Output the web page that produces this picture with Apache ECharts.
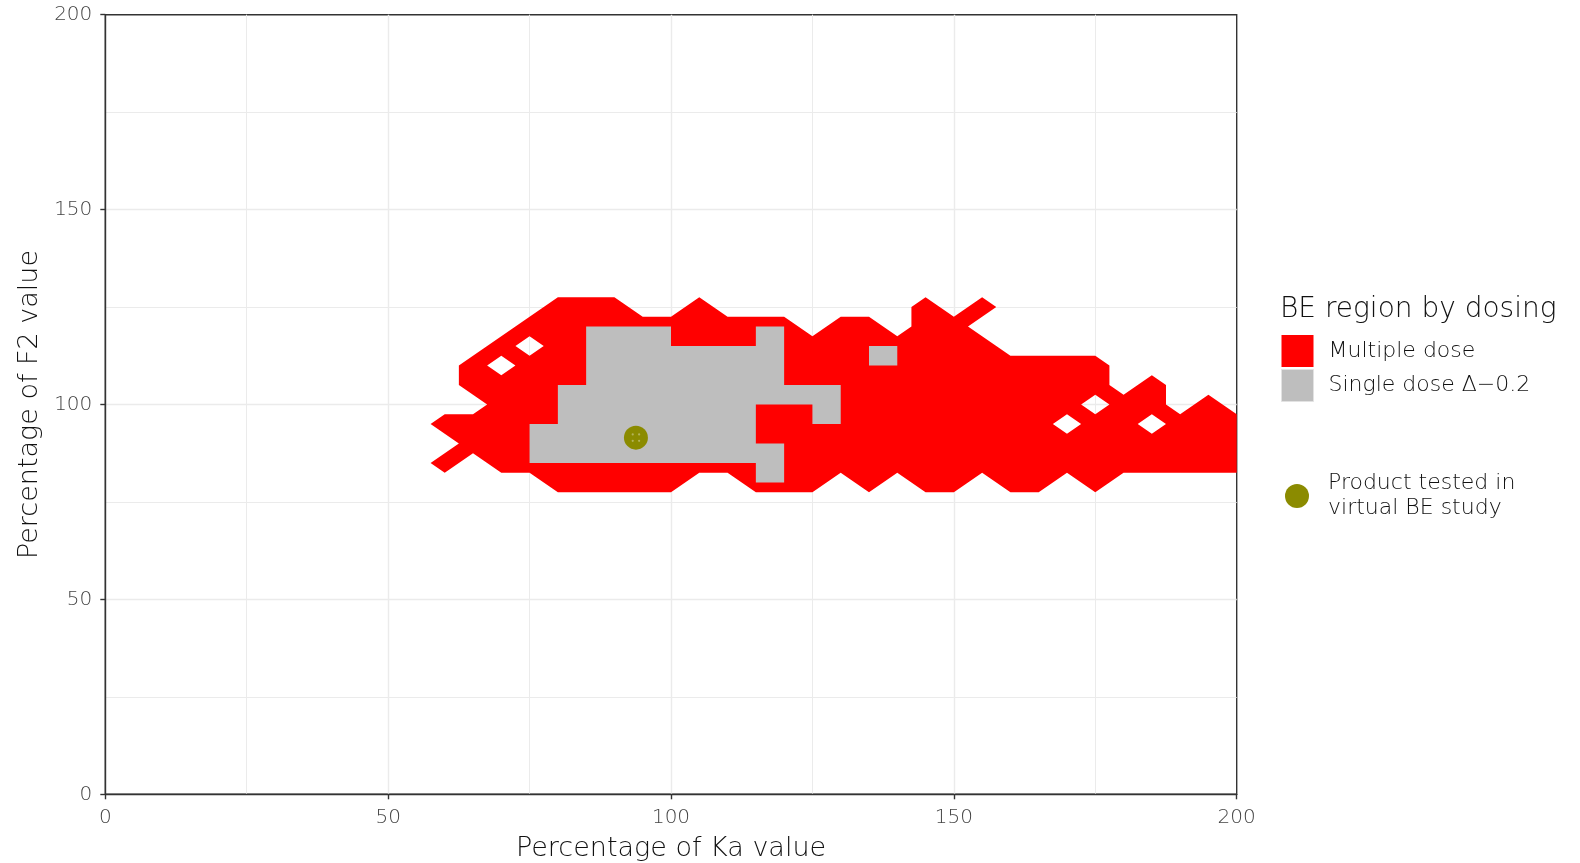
<!DOCTYPE html>
<html>
<head>
<meta charset="utf-8">
<script src="https://cdn.jsdelivr.net/npm/echarts@6/dist/echarts.min.js"></script>
<style>
html,body{margin:0;padding:0;background:#ffffff;}
#chart{width:1580px;height:863px;}
</style>
</head>
<body>
<div id="chart"></div>
<script>
// ---- grid of evaluated points (percent of reference values) ----
const kaLevels = [55,60,65,70,75,80,85,90,95,100,105,110,115,120,125,130,135,140,145,150,155,160,165,170,175,180,185,190,195,200];
const f2Levels = [130,125,120,115,110,105,100,95,90,85,80,75];

// ---- Multiple dose: Ka ranges (inclusive) that are bioequivalent, one list per F2 level above ----
const multipleDoseKaRanges = [
  [],
  [[80,90],[105,105],[145,145],[155,155]],
  [[75,120],[130,135],[145,150]],
  [[70,70],[80,155]],
  [[65,65],[75,175]],
  [[65,175],[185,185]],
  [[70,170],[180,185],[195,195]],
  [[60,165],[175,180],[190,200]],
  [[65,200]],
  [[60,60],[70,200]],
  [[80,100],[115,125],[135,135],[145,150],[160,165],[175,175]],
  []
];

// ---- Single dose (delta 0.2): tiles [kaFrom, kaTo, f2From, f2To] ----
const singleDoseKaFrom = [85, 115, 85, 80, 80, 125, 75, 75, 115, 135];
const singleDoseKaTo   = [100,120, 120,130,115,130, 115,120,120, 140];
const singleDoseF2From = [115,115, 105,100, 95, 95, 90, 85, 80, 110];
const singleDoseF2To   = [120,120, 115,105,100,100, 95, 90, 85, 115];

// ---- product tested in virtual BE study ----
const productKa = [93.8];
const productF2 = [91.5];

const xTicks = [0, 50, 100, 150, 200];
const yTicks = [0, 50, 100, 150, 200];

const FONT = 'DejaVu Sans';
const RED = '#FF0000';
const GREY = '#BEBEBE';
const OLIVE = '#8B8B00';

function isInside(i, j) {
  const ka = kaLevels[i];
  return multipleDoseKaRanges[j].some(r => ka >= r[0] && ka <= r[1]);
}

function fmt(p) { return p[0].toFixed(2) + ' ' + p[1].toFixed(2); }

// marching squares (midpoint) on the binary grid, drawn as one compound path
function renderMultiple(params, api) {
  let d = '';
  const nx = kaLevels.length, ny = f2Levels.length;
  for (let j = 0; j < ny - 1; j++) {
    for (let i = 0; i < nx - 1; i++) {
      const corners = [[i, j + 1], [i + 1, j + 1], [i + 1, j], [i, j]];
      const pts = [];
      for (let k = 0; k < 4; k++) {
        const a = corners[k], b = corners[(k + 1) % 4];
        const ia = isInside(a[0], a[1]), ib = isInside(b[0], b[1]);
        if (ia) pts.push([kaLevels[a[0]], f2Levels[a[1]]]);
        if (ia !== ib) pts.push([(kaLevels[a[0]] + kaLevels[b[0]]) / 2, (f2Levels[a[1]] + f2Levels[b[1]]) / 2]);
      }
      if (pts.length >= 3) {
        d += pts.map((p, k) => (k ? 'L' : 'M') + fmt(api.coord(p))).join('') + 'Z';
      }
    }
  }
  return { type: 'path', shape: { pathData: d }, style: { fill: RED, stroke: null } };
}

function renderSingle(params, api) {
  let d = '';
  for (let t = 0; t < singleDoseKaFrom.length; t++) {
    const pts = [
      [singleDoseKaFrom[t], singleDoseF2From[t]],
      [singleDoseKaTo[t], singleDoseF2From[t]],
      [singleDoseKaTo[t], singleDoseF2To[t]],
      [singleDoseKaFrom[t], singleDoseF2To[t]]
    ];
    d += pts.map((p, k) => (k ? 'L' : 'M') + fmt(api.coord(p))).join('') + 'Z';
  }
  return { type: 'path', shape: { pathData: d }, style: { fill: GREY, stroke: null } };
}

function renderProduct(params, api) {
  const p = api.coord([api.value(0), api.value(1)]);
  const children = [{ type: 'circle', shape: { cx: p[0], cy: p[1], r: 12 }, style: { fill: OLIVE } }];
  [[-3.2, -3.2], [3.2, -3.2], [-3.2, 3.2], [3.2, 3.2]].forEach(o => {
    children.push({ type: 'circle', shape: { cx: p[0] + o[0], cy: p[1] + o[1], r: 1.1 }, style: { fill: '#B4B45A' } });
  });
  return { type: 'group', children: children };
}

const axisCommon = {
  type: 'value',
  min: 0,
  max: 200,
  interval: 50,
  axisLine: { show: true, lineStyle: { color: '#333333', width: 1.4 } },
  axisTick: { show: true, inside: false, length: 5, lineStyle: { color: '#333333', width: 1.4 } },
  splitLine: { show: true, showMinLine: false, showMaxLine: false, lineStyle: { color: '#EBEBEB', width: 1.4 } },
  minorTick: { show: false, splitNumber: 2 },
  minorSplitLine: { show: true, lineStyle: { color: '#EBEBEB', width: 1 } },
  nameLocation: 'middle',
  nameTextStyle: { fontFamily: FONT, fontSize: 27, fontWeight: 200, color: '#111111' }
};

const chart = echarts.init(document.getElementById('chart'), null, { renderer: 'canvas' });
chart.setOption({
  animation: false,
  backgroundColor: '#ffffff',
  textStyle: { fontFamily: FONT },
  title: {
    text: 'BE region by dosing',
    left: 1280,
    top: 296,
    padding: 0,
    textStyle: { fontFamily: FONT, fontSize: 28, fontWeight: 200, color: '#111111' }
  },
  grid: {
    left: 105.3, right: 343.3, top: 14.7, bottom: 68.7,
    containLabel: false, outerBoundsMode: 'none',
    show: true, borderColor: '#333333', borderWidth: 1.4, backgroundColor: '#ffffff'
  },
  xAxis: Object.assign({}, axisCommon, {
    name: 'Percentage of Ka value',
    nameGap: 41,
    axisLabel: {
      fontFamily: FONT, fontSize: 20, fontWeight: 200, color: '#444444', margin: 13,
      customValues: xTicks
    }
  }),
  yAxis: Object.assign({}, axisCommon, {
    name: 'Percentage of F2 value',
    nameGap: 62,
    axisLabel: {
      fontFamily: FONT, fontSize: 20, fontWeight: 200, color: '#444444', margin: 13,
      customValues: yTicks
    }
  }),
  legend: [
    {
      orient: 'vertical', left: 1281, top: 335, padding: 0,
      itemWidth: 32, itemHeight: 32, itemGap: 2, selectedMode: false,
      data: [
        { name: 'Multiple dose', icon: 'rect', itemStyle: { color: RED } },
        { name: 'Single dose Δ−0.2', icon: 'rect', itemStyle: { color: GREY, borderColor: '#E2E2E2', borderWidth: 1 } }
      ],
      textStyle: { fontFamily: FONT, fontSize: 22, fontWeight: 200, color: '#111111', padding: [5, 0, 0, 10] }
    },
    {
      orient: 'vertical', left: 1285, top: 467, padding: 0,
      itemWidth: 24, itemHeight: 24, selectedMode: false,
      data: [{ name: 'Product tested in\nvirtual BE study', icon: 'circle', itemStyle: { color: OLIVE } }],
      textStyle: { fontFamily: FONT, fontSize: 22, fontWeight: 200, color: '#111111', lineHeight: 25, padding: [8, 0, 0, 14] }
    }
  ],
  series: [
    {
      name: 'Multiple dose', type: 'custom', coordinateSystem: 'cartesian2d',
      itemStyle: { color: RED }, z: 2, silent: true,
      data: [[kaLevels[0], f2Levels[0]]],
      renderItem: renderMultiple
    },
    {
      name: 'Single dose Δ−0.2', type: 'custom', coordinateSystem: 'cartesian2d',
      itemStyle: { color: GREY }, z: 3, silent: true,
      data: [[singleDoseKaFrom[0], singleDoseF2From[0]]],
      renderItem: renderSingle
    },
    {
      name: 'Product tested in\nvirtual BE study', type: 'custom', coordinateSystem: 'cartesian2d',
      itemStyle: { color: OLIVE }, z: 4, silent: true,
      data: productKa.map((k, i) => [k, productF2[i]]),
      renderItem: renderProduct
    }
  ]
});
</script>
</body>
</html>
